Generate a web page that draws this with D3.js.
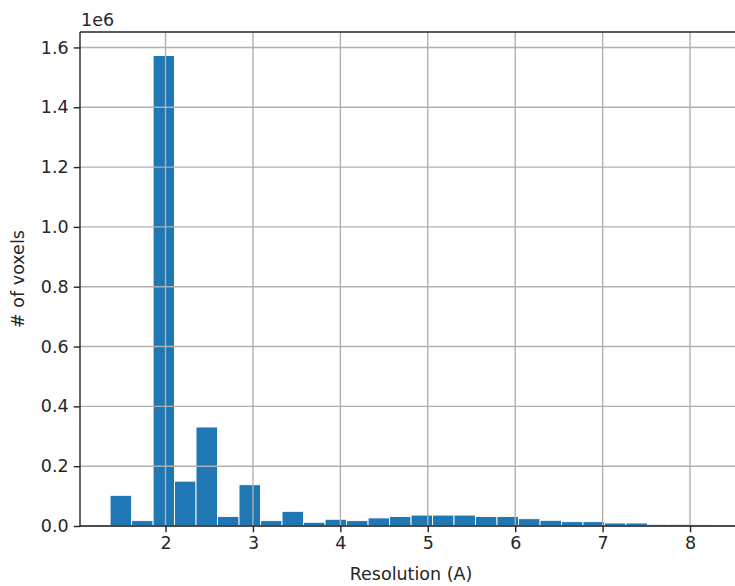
<!DOCTYPE html>
<html>
<head>
<meta charset="utf-8">
<script src="https://cdn.jsdelivr.net/npm/d3@7"></script>
<style>
  html, body { margin: 0; padding: 0; background: #fff; }
  svg { display: block; }
  text { font-family: "DejaVu Sans", sans-serif; fill: #262626; }
</style>
</head>
<body>
<svg id="chart" width="735" height="586"></svg>
<script>
// Histogram bin edges (Resolution, Å)
const binEdges = [1.366, 1.612, 1.858, 2.103, 2.349, 2.595, 2.841, 3.087, 3.333, 3.579,
                  3.825, 4.071, 4.317, 4.563, 4.809, 5.055, 5.300, 5.546, 5.792, 6.038,
                  6.284, 6.530, 6.775, 7.021, 7.267, 7.513, 7.759, 8.005, 8.250];
// Counts per bin (# of voxels)
const counts = [102500, 18000, 1573000, 150000, 331000, 32000, 138000, 18000, 49000, 12500,
                22500, 18000, 27000, 32000, 36500, 36500, 36500, 32000, 32000, 24500,
                19000, 14500, 14500, 10000, 10000, 5600, 5600, 5000];
const xTicks = [2, 3, 4, 5, 6, 7, 8];
const yTicks = [0, 200000, 400000, 600000, 800000, 1000000, 1200000, 1400000, 1600000];
const xLabel = "Resolution (A)";
const yLabel = "# of voxels";
const yOffsetLabel = "1e6";

const bins = counts.map((c, i) => ({ x0: binEdges[i], x1: binEdges[i + 1], n: c }));

const svg = d3.select("#chart");
const pL = 80, pR = 742, pT = 32, pB = 526;

const xMin = binEdges[0], xMax = binEdges[binEdges.length - 1];
const xPad = (xMax - xMin) * 0.05;
const x = d3.scaleLinear().domain([xMin - xPad, xMax + xPad]).range([pL, pR]);
const y = d3.scaleLinear().domain([0, d3.max(counts) * 1.05]).range([pB, pT]);

// bars
svg.append("g").selectAll("rect").data(bins).join("rect")
  .attr("x", d => x(d.x0))
  .attr("y", d => y(d.n))
  .attr("width", d => x(d.x1) - x(d.x0))
  .attr("height", d => y(0) - y(d.n))
  .attr("fill", "#1f77b4")
  .attr("stroke", "#ffffff")
  .attr("stroke-width", 0.9);

// grid (drawn above bars as in matplotlib default)
const grid = svg.append("g");
grid.selectAll("line.gx").data(xTicks).join("line").attr("class", "gx")
  .attr("x1", d => x(d)).attr("x2", d => x(d))
  .attr("y1", pT).attr("y2", pB)
  .attr("stroke", "#b0b0b0").attr("stroke-width", 1.4);
grid.selectAll("line.gy").data(yTicks).join("line").attr("class", "gy")
  .attr("x1", pL).attr("x2", pR)
  .attr("y1", d => y(d)).attr("y2", d => y(d))
  .attr("stroke", "#b0b0b0").attr("stroke-width", 1.4);

// axes
const xAxis = d3.axisBottom(x).tickValues(xTicks).tickFormat(d3.format("d"))
  .tickSize(6.3).tickPadding(4.5);
const gx = svg.append("g").attr("transform", `translate(0,${pB})`).call(xAxis);
const yAxis = d3.axisLeft(y).tickValues(yTicks).tickFormat(d => (d / 1e6).toFixed(1))
  .tickSize(6.3).tickPadding(5);
const gy = svg.append("g").attr("transform", `translate(${pL},0)`).call(yAxis);

[gx, gy].forEach(g => {
  g.select(".domain").remove();
  g.selectAll(".tick line").attr("stroke", "#262626").attr("stroke-width", 1.4);
  g.selectAll(".tick text").attr("font-size", "17.5px").attr("fill", "#262626")
    .attr("font-family", "DejaVu Sans, sans-serif");
});

// spines
const sp = svg.append("g").attr("stroke", "#262626").attr("stroke-width", 1.4).attr("fill", "none");
sp.append("line").attr("x1", pL).attr("x2", pL).attr("y1", pT).attr("y2", pB);
sp.append("line").attr("x1", pL).attr("x2", pR).attr("y1", pB).attr("y2", pB);
sp.append("line").attr("x1", pL).attr("x2", pR).attr("y1", pT).attr("y2", pT);
sp.append("line").attr("x1", pR).attr("x2", pR).attr("y1", pT).attr("y2", pB);

// labels
svg.append("text").attr("x", (pL + pR) / 2).attr("y", 580)
  .attr("text-anchor", "middle").attr("font-size", "17.5px").text(xLabel);
svg.append("text").attr("transform", `translate(24,${(pT + pB) / 2}) rotate(-90)`)
  .attr("text-anchor", "middle").attr("font-size", "17.5px").text(yLabel);
svg.append("text").attr("x", pL + 1).attr("y", 26)
  .attr("font-size", "17.5px").text(yOffsetLabel);
</script>
</body>
</html>
